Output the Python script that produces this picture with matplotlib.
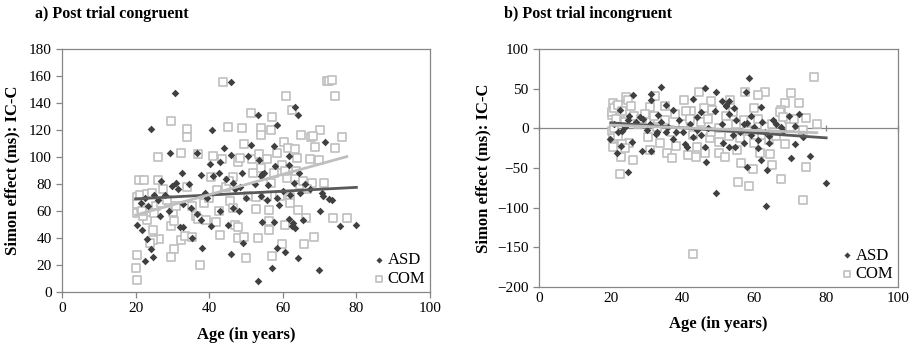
import numpy as np
import matplotlib
matplotlib.use("Agg")
import matplotlib.pyplot as plt

plt.rcParams['font.family'] = ['Liberation Serif', 'DejaVu Serif']

# ---- panel a: post trial congruent (age, Simon effect in ms) ----
a_asd_age = [45.9, 30.7, 24.2, 40.7, 53.2, 64.0, 63.4, 58.3, 29.4, 36.7, 44.1, 45.9, 51.4, 57.6, 71.6,
             32.5, 40.3, 49.0, 54.4, 42.7, 54.0, 54.9, 57.9, 61.8, 61.6, 27.0, 30.9, 29.9, 37.8, 38.8,
             46.6, 63.0, 70.6, 70.8, 72.5, 73.4, 20.3, 21.7, 23.0, 24.2, 22.6, 24.6, 26.6, 29.2, 32.1,
             32.8, 35.3, 38.0, 36.8, 37.7, 40.5, 42.8, 45.0, 46.0, 48.1, 49.3, 53.2, 54.2, 54.4, 55.6,
             57.0, 57.6, 58.3, 59.0, 60.6, 61.8, 62.6, 62.9, 63.3, 64.0, 64.7, 65.6, 70.1, 69.9, 75.5,
             79.9, 21.5, 22.5, 23.5, 25.0, 26.0, 28.0, 31.5, 33.0, 35.0, 39.5, 41.0, 43.0, 44.5, 47.0,
             50.5, 52.5, 53.5, 56.0, 58.5, 60.0, 62.0, 64.5, 66.0, 67.5, 46.5, 48.5, 50.0, 34.5]
a_asd_val = [155.3, 147.2, 120.6, 120.1, 131.2, 131.2, 137.3, 123.8, 102.8, 102.6, 107.0, 101.8, 109.0, 108.5, 110.9,
             88.0, 94.9, 88.5, 87.5, 88.0, 86.0, 88.5, 93.0, 100.8, 94.0, 81.9, 80.4, 78.2, 86.3, 73.2,
             80.6, 81.0, 73.2, 71.0, 69.0, 68.5, 49.8, 46.0, 39.0, 31.8, 23.2, 25.6, 56.0, 59.7, 47.8,
             48.5, 40.2, 32.8, 57.7, 53.5, 49.0, 60.2, 49.8, 28.4, 59.9, 36.2, 8.4, 70.8, 52.0, 68.0,
             17.5, 51.5, 32.5, 64.3, 30.0, 54.2, 48.6, 51.0, 47.5, 25.1, 73.2, 53.3, 59.9, 16.0, 48.6,
             49.3, 66.0, 70.0, 64.0, 72.0, 68.0, 72.0, 76.0, 65.0, 62.0, 70.0, 86.0, 96.0, 84.0, 76.0,
             101.0, 80.0, 98.0, 79.0, 70.0, 75.0, 72.0, 88.0, 80.0, 76.0, 62.0, 78.0, 70.0, 80.0]

a_com_age = [43.7, 72.0, 72.6, 73.4, 74.2, 60.8, 29.5, 51.4, 57.0, 62.6, 34.0, 34.0, 45.2, 49.0, 54.2,
             56.8, 54.2, 70.1, 76.2, 65.0, 67.6, 68.3, 60.2, 68.7, 26.2, 32.3, 36.9, 40.9, 43.6, 49.5,
             51.5, 47.7, 48.5, 53.4, 55.6, 58.5, 61.5, 63.3, 63.8, 74.2, 69.8, 67.4, 59.8, 26.2, 21.0,
             22.3, 27.5, 33.9, 40.4, 42.0, 46.6, 50.6, 52.8, 55.6, 56.7, 59.2, 61.2, 62.0, 64.6, 67.8,
             71.3, 20.3, 21.2, 23.0, 24.4, 20.3, 23.0, 25.5, 25.0, 26.4, 24.8, 24.8, 23.9, 20.3, 20.0,
             20.3, 29.5, 30.5, 30.2, 30.4, 29.5, 32.3, 33.5, 35.4, 37.5, 35.2, 39.0, 41.9, 42.8, 42.7,
             45.6, 46.5, 47.0, 47.7, 47.7, 49.5, 50.0, 53.2, 52.6, 56.3, 56.3, 56.3, 57.2, 59.9, 60.7,
             61.9, 64.0, 65.8, 66.3, 68.5, 73.7, 77.4, 21.5, 22.0, 20.5, 21.8, 27.0, 28.5, 31.0, 36.5,
             38.5, 40.0, 44.5, 45.5, 54.0, 52.0, 57.5, 60.5, 63.5, 65.5, 66.5, 37.0]
a_com_val = [155.8, 156.0, 156.5, 157.0, 145.5, 145.5, 127.0, 132.4, 130.0, 134.9, 121.0, 114.6, 122.5, 121.3, 121.3,
             120.0, 116.4, 120.0, 115.0, 116.0, 114.6, 115.5, 111.4, 107.7, 99.9, 102.8, 102.3, 101.0, 98.4, 109.7,
             98.4, 96.6, 99.5, 102.3, 98.4, 102.8, 106.5, 106.0, 99.0, 106.5, 97.9, 98.4, 94.2, 83.0, 83.0,
             83.0, 76.4, 77.7, 85.5, 75.7, 85.5, 70.8, 70.5, 70.8, 80.6, 70.8, 84.3, 70.5, 79.4, 80.6,
             81.1, 70.5, 71.5, 72.5, 73.0, 58.4, 53.5, 64.0, 58.5, 39.2, 46.0, 38.7, 36.2, 27.6, 17.7,
             9.1, 49.1, 52.3, 59.2, 31.8, 25.6, 38.7, 41.2, 40.7, 19.7, 63.9, 53.5, 51.5, 42.4, 59.7,
             67.1, 62.1, 49.6, 47.8, 40.0, 40.7, 25.4, 40.2, 61.4, 60.4, 52.3, 46.1, 26.9, 35.7, 49.8,
             65.8, 60.4, 35.5, 54.7, 40.7, 54.7, 54.7, 62.0, 56.0, 65.0, 60.0, 66.0, 68.0, 64.0, 56.0,
             66.0, 70.0, 78.0, 82.0, 92.0, 88.0, 88.0, 90.0, 90.0, 82.0, 76.0, 54.0]

# trendlines (value at start and end age)
a_asd_trend_age = [20, 80]
a_asd_trend_val = [69.0, 77.5]
a_com_trend_age = [20, 77.4]
a_com_trend_val = [57.0, 100.3]

# ---- panel b: post trial incongruent ----
b_asd_age = [58.5, 34.0, 46.2, 49.2, 26.3, 31.2, 31.2, 50.9, 53.0, 57.6, 43.0, 35.5, 52.0, 54.4, 59.1,
             61.9, 65.3, 72.3, 69.5, 71.2, 22.5, 24.8, 28.1, 37.4, 43.9, 33.2, 67.3, 23.1, 25.9, 28.6,
             31.1, 19.9, 22.9, 21.6, 24.8, 32.5, 35.5, 37.4, 38.3, 40.6, 41.3, 43.0, 45.0, 46.2, 46.4,
             49.3, 51.3, 53.0, 54.6, 57.2, 57.9, 60.9, 61.9, 63.2, 63.5, 64.2, 70.2, 71.2, 73.5, 75.5,
             79.9, 58.0, 21.0, 22.0, 24.0, 25.0, 27.0, 29.0, 30.0, 31.0, 33.0, 34.0, 36.0, 39.0, 40.0,
             42.0, 44.0, 45.0, 47.0, 49.0, 51.0, 52.0, 53.0, 54.0, 55.0, 56.0, 57.0, 59.0, 60.0, 61.0,
             62.0, 63.0, 64.0, 66.0, 68.0]
b_asd_val = [63.0, 52.5, 50.8, 45.7, 42.0, 43.2, 35.6, 34.4, 35.0, 45.7, 37.0, 29.3, 28.0, 25.1, 15.9,
             26.4, 10.4, 18.0, 15.9, 2.8, 23.0, 10.4, 14.6, 23.0, 14.6, 16.7, 1.1, -3.0, -17.0, -28.3,
             -29.2, -14.0, -22.4, -30.8, -54.8, -7.3, -4.3, -14.0, -4.3, -20.3, -23.3, -10.6, -8.5, -23.3, -42.2,
             -80.9, -19.0, -23.3, -23.3, -19.0, -48.5, -25.4, -40.0, -98.0, -52.7, -18.2, -37.2, -19.9, -11.5, -35.0,
             -68.3, 6.2, 5.0, -5.0, 2.0, 15.0, 8.0, 12.0, -2.0, 5.0, -5.0, 8.0, 2.0, 10.0, -5.0,
             5.0, -2.0, 20.0, 0.0, 22.0, 5.0, 30.0, 18.0, -8.0, 10.0, -5.0, 5.0, -8.0, 2.0, -15.0,
             8.0, -5.0, -10.0, 5.0, -3.0]

b_com_age = [76.5, 43.0, 57.4, 62.9, 70.2, 44.6, 60.9, 68.5, 72.5, 40.5, 42.3, 32.3, 24.4, 24.1, 24.8,
             53.2, 47.8, 20.9, 20.7, 21.6, 30.9, 35.2, 48.1, 59.9, 67.3, 74.3, 77.4, 69.5, 20.2, 22.5,
             20.7, 20.5, 22.8, 22.5, 26.2, 25.0, 30.4, 30.9, 33.7, 35.7, 37.1, 38.3, 41.6, 43.7, 43.9,
             46.2, 47.6, 50.0, 50.2, 51.8, 55.1, 55.3, 56.2, 58.5, 59.7, 61.6, 64.4, 65.0, 67.3, 68.4,
             73.4, 74.3, 73.4, 20.3, 20.8, 21.5, 22.0, 23.0, 24.0, 25.5, 26.5, 27.5, 28.5, 29.5, 31.0,
             32.0, 33.0, 35.0, 37.0, 38.0, 40.0, 41.0, 42.0, 43.0, 45.0, 46.0, 47.0, 48.0, 50.0, 52.0,
             53.0, 54.0, 55.0, 56.0, 57.0, 58.0, 59.0, 60.0, 61.0, 62.0, 63.0, 64.0, 65.0, 66.0, 67.0,
             68.0, 70.0, 71.0, 20.2, 20.5, 21.0, 22.0, 23.0, 24.0]
b_com_val = [65.0, -158.7, 46.0, 45.3, 44.0, 46.0, 42.0, 32.3, 31.4, 35.6, 22.0, 41.0, 38.0, 40.0, 36.0,
             35.6, 34.8, 30.0, 32.0, 28.0, 27.2, 28.0, 23.0, 25.0, 23.0, 12.5, 5.3, 11.7, 16.7, 18.8,
             -6.4, -23.3, -35.9, -57.0, -39.3, -19.0, -10.6, -27.5, -19.0, -31.7, -38.0, -22.0, -33.8, -35.9, -23.3,
             -31.7, -12.7, -17.0, -31.7, -35.9, -27.5, -67.4, -44.3, -72.5, -51.4, -31.7, -32.5, -46.4, -64.0, -20.0,
             -90.6, -48.5, -2.2, 20.0, 25.0, 12.0, 30.0, 22.0, 8.0, 28.0, 15.0, 5.0, 12.0, 18.0, 8.0,
             15.0, 2.0, 10.0, -5.0, 18.0, 5.0, 22.0, 12.0, -8.0, 8.0, 25.0, 12.0, -5.0, 0.0, 15.0,
             -10.0, 20.0, 5.0, -12.0, 10.0, -3.0, 8.0, -18.0, 12.0, -8.0, 2.0, -15.0, 6.0, -10.0, 20.0,
             14.0, 2.0, 12.0, -3.0, -12.0, 0.0, -10.0, -20.0, -25.0]

b_asd_trend_age = [20, 80]
b_asd_trend_val = [7.0, -12.0]
b_com_trend_age = [20, 77.4]
b_com_trend_val = [4.0, -5.5]

dark = '#404040'
light = '#bfbfbf'
frame = '#868686'

fig = plt.figure(figsize=(9.13, 3.48), dpi=100)
ax1 = fig.add_axes([62 / 913, 1 - 292 / 348, 368 / 913, 243 / 348])
ax2 = fig.add_axes([539 / 913, 1 - 287 / 348, 359 / 913, 238 / 348])


def draw(ax, asd_x, asd_y, com_x, com_y, ta_x, ta_y, tc_x, tc_y):
    ax.scatter(com_x, com_y, marker='s', s=26, facecolors='white', edgecolors=light,
               linewidths=1.2, zorder=2, label='COM')
    ax.scatter(asd_x, asd_y, marker='D', s=15, color=dark, linewidths=0, zorder=3, label='ASD')
    ax.plot(ta_x, ta_y, color='#595959', lw=2, zorder=4)
    ax.plot(tc_x, tc_y, color=light, lw=2, zorder=4)
    ax.set_xlim(0, 100)
    ax.set_xticks(range(0, 101, 20))
    for sp in ax.spines.values():
        sp.set_color(frame)
        sp.set_linewidth(0.9)
    ax.tick_params(colors=frame, labelcolor='black', labelsize=11, length=4, width=0.9)
    ax.set_xlabel('Age (in years)', fontsize=12, fontweight='bold', labelpad=8)
    h, l = ax.get_legend_handles_labels()
    ax.legend(h[::-1], l[::-1], loc='lower right', frameon=False, fontsize=12,
              handletextpad=0.1, handlelength=0.8, borderaxespad=0.0, labelspacing=0.15,
              markerscale=0.8, borderpad=0.3)


draw(ax1, a_asd_age, a_asd_val, a_com_age, a_com_val,
     a_asd_trend_age, a_asd_trend_val, a_com_trend_age, a_com_trend_val)
ax1.set_ylim(0, 180)
ax1.set_yticks(range(0, 181, 20))
ax1.set_ylabel('Simon effect (ms): IC-C', fontsize=12, fontweight='bold', labelpad=6)

draw(ax2, b_asd_age, b_asd_val, b_com_age, b_com_val,
     b_asd_trend_age, b_asd_trend_val, b_com_trend_age, b_com_trend_val)
ax2.set_ylim(-200, 100)
ax2.set_yticks(range(-200, 101, 50))
ax2.axhline(0, color=frame, lw=0.9, zorder=1)
ax2.tick_params(axis='x', length=0)
zero_axis = ax2.secondary_xaxis(2 / 3)
zero_axis.set_xticks(range(0, 101, 20))
zero_axis.tick_params(labelbottom=False, labeltop=False, colors=frame, length=4, width=0.9,
                      direction='inout')
zero_axis.spines['top'].set_visible(False)
zero_axis.spines['bottom'].set_visible(False)
ax2.set_ylabel('Simon effect (ms): IC-C', fontsize=12, fontweight='bold', labelpad=4)

fig.text(35 / 913, 1 - 14 / 348, 'a) Post trial congruent', fontsize=11.5, fontweight='bold', va='center')
fig.text(504 / 913, 1 - 14 / 348, 'b) Post trial incongruent', fontsize=11.5, fontweight='bold', va='center')

fig.savefig('out.png', dpi=100)
